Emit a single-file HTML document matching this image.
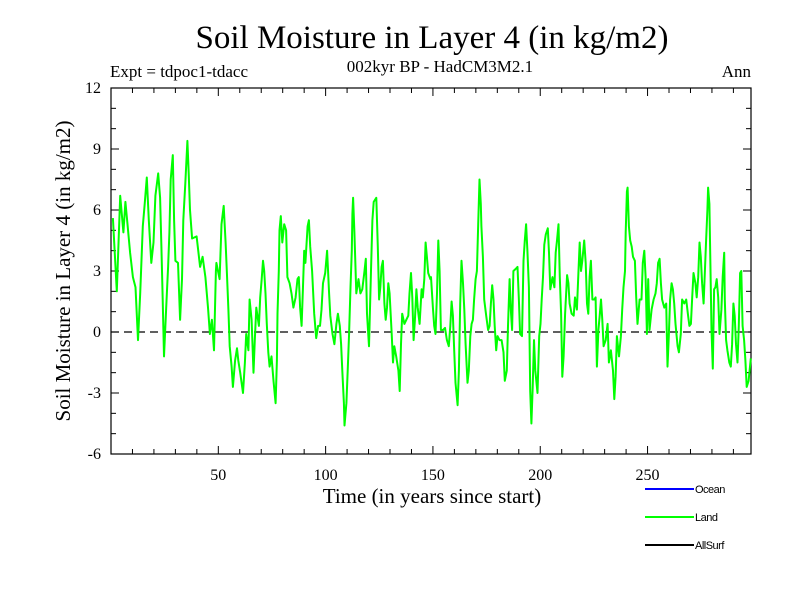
<!DOCTYPE html>
<html><head><meta charset="utf-8"><style>
html,body{margin:0;padding:0;background:#fff;}
svg{display:block;font-family:"Liberation Serif",serif;}
</style></head><body>
<svg id="chart" width="800" height="600" viewBox="0 0 800 600">
<text x="432" y="48" font-size="33" text-anchor="middle">Soil Moisture in Layer 4 (in kg/m2)</text>
<text x="110" y="77" font-size="17">Expt = tdpoc1-tdacc</text>
<text x="440" y="72" font-size="17" text-anchor="middle">002kyr BP - HadCM3M2.1</text>
<text x="751" y="77" font-size="17" text-anchor="end">Ann</text>
<g id="axes"></g>
<g id="series"></g>
<text x="432" y="503" font-size="21" text-anchor="middle">Time (in years since start)</text>
<text transform="translate(70,271) rotate(-90)" font-size="21" text-anchor="middle">Soil Moisture in Layer 4 (in kg/m2)</text>
<g font-family="Liberation Sans, sans-serif" font-size="11">
<g><line x1="645" y1="489" x2="694" y2="489" stroke="#0000ff" stroke-width="2"/><text x="695" y="493" letter-spacing="-0.5">Ocean</text></g>
<g><line x1="645" y1="517" x2="694" y2="517" stroke="#00ff00" stroke-width="2"/><text x="695" y="521" letter-spacing="-0.5">Land</text></g>
<g><line x1="645" y1="545" x2="694" y2="545" stroke="#000" stroke-width="2"/><text x="695" y="549" letter-spacing="-0.5">AllSurf</text></g>
</g>
</svg>
<script>
const years = [0.9,2.7,4.3,5.8,6.7,7.7,8.9,10.2,11.4,12.6,13.6,14.8,15.7,16.7,17.6,18.8,19.8,20.7,22,22.9,23.5,24.1,24.7,25.7,26.6,27.2,27.8,28.8,29.4,30,31.2,32.2,33.1,33.7,34.6,35.6,36.2,36.8,37.8,39.9,41.5,42.7,44,45.2,46.1,47,48,48.9,
49.1,50.6,51.5,52.5,53.4,54,54.7,55.3,56.2,56.8,57.8,58.7,59.3,60.2,61.5,62.4,63,64,64.6,65.5,66.4,67,67.7,68.9,69.5,70.2,70.8,71.4,72,72.6,73.3,73.9,74.8,75.7,76.7,77.3,77.6,78.2,78.5,79.1,79.8,80.7,81.6,82.2,83.2,84.1,85,86,86.9,87.5,88.1,88.8,89.4,90,90.6,91.6,92.2,92.8,93.7,94.7,95.6,96.5,97.4,98.1,
98.8,99.8,100.7,101.6,102.2,103.2,104.1,105,105.7,106.6,107.2,107.8,108.5,108.8,109.7,110.3,110.9,111.6,112.2,112.5,112.8,113.4,114.3,115.3,116.2,117.1,118.1,118.7,119.3,120.2,121.2,121.8,122.4,123.6,124.3,124.9,125.5,126.1,126.7,127.4,128,128.6,129.2,129.8,130.8,131.4,132,132.9,133.9,134.5,135.1,135.7,136.7,137.6,138.5,139.1,139.8,140.4,141,141.6,142.3,142.9,143.8,144.7,145.3,146,146.6,147.2,147.8,148.8,
149.1,150,150.6,151.2,151.9,152.5,153.1,153.7,154.7,155.6,156.5,157.4,158.1,158.7,159.3,159.9,160.5,161.5,162.1,162.7,163.3,164,164.6,165.2,166.1,166.7,167.4,168,168.6,169.2,169.9,170.5,171.1,171.7,172.3,172.6,173.3,173.9,174.8,175.7,176.4,177,177.6,178.2,178.8,179.5,180.1,181,182,182.9,183.5,184.4,185,185.7,186.3,186.9,187.5,188.5,189.4,190,190.6,191.5,192.2,192.8,193.4,194,194.7,195.3,195.9,196.5,197.1,197.7,198.7,
199.5,200.1,200.7,201.3,201.9,202.6,203.5,204.1,204.7,205.7,206.6,207.2,207.8,208.5,209.1,209.7,210.3,210.9,211.6,212.5,213.1,213.7,214.6,215.6,216.2,217.1,217.8,218.4,219,219.6,220.5,221.2,221.8,222.4,223,223.6,224.3,225.2,225.8,226.4,227.1,227.7,228.3,228.9,229.5,230.5,231.4,232,232.9,233.9,234.5,235.1,235.7,236.7,237.6,238.2,238.8,239.5,239.8,240.4,240.7,241.3,241.9,242.6,243.2,244.1,244.7,245.3,246.3,247.2,247.8,248.5,249.1,
249.7,250.3,250.9,251.9,252.8,253.7,254.3,254.9,255.6,256.2,256.8,257.8,258.7,259.3,259.9,260.5,261.2,261.8,262.4,263,264,264.6,265.5,266.1,267.1,268,268.9,269.5,270.2,270.8,271.4,272.3,272.9,273.6,274.2,274.8,275.4,276.1,276.7,277.3,277.9,278.2,278.8,279.1,279.8,280.4,281,281.6,282.2,282.9,283.5,284.4,285,285.7,286,286.6,287.2,288.1,288.8,289.4,290,290.6,291.2,291.9,292.5,293.1,293.7,294.3,295,295.6,296.2,297.1,298.1];
const landValues = [5.6,2.0,6.7,4.9,6.4,5.3,3.9,2.7,2.2,-0.4,1.9,5.2,6.3,7.6,5.5,3.4,4.4,6.7,7.8,6.6,4.2,1.6,-1.2,1.2,3.2,4.9,7.5,8.7,5.5,3.5,3.4,0.6,2.6,5.5,7.3,9.4,7.8,6.0,4.6,4.7,3.2,3.7,2.7,1.2,-0.1,0.6,-0.9,3.0,
3.4,2.6,5.3,6.2,4.4,2.9,1.1,-0.7,-1.7,-2.7,-1.4,-0.8,-1.4,-2.0,-3.0,-1.5,-0.1,-0.9,1.6,0.6,-2.0,-0.4,1.2,0.3,1.7,2.6,3.5,3.0,1.9,0.4,-1.0,-1.7,-1.2,-2.4,-3.5,-1.4,0.9,3.0,5.0,5.7,4.4,5.3,5.0,2.7,2.4,1.9,1.2,1.7,2.6,2.7,1.2,0.3,2.1,4.0,3.4,5.2,5.5,4.2,3.0,0.9,-0.3,0.3,0.3,1.1,
2.4,2.9,4.0,1.9,0.8,-0.1,-0.6,0.4,0.9,0.3,-0.6,-2.0,-3.5,-4.6,-3.5,-1.9,-0.2,2.2,4.0,5.8,6.6,4.9,1.9,2.6,1.9,2.1,3.0,3.6,0.9,-0.7,3.2,5.5,6.4,6.6,4.2,1.6,2.2,3.2,3.5,1.4,0.6,1.2,2.4,1.9,-0.1,-1.5,-0.7,-1.2,-1.9,-2.9,-0.6,0.9,0.4,0.6,0.8,1.9,2.9,1.7,-0.4,0.6,2.1,1.2,0.4,2.1,1.7,2.6,4.4,3.7,2.9,2.6,
2.7,1.2,0.3,-0.1,1.9,4.5,3.0,0.1,0.1,0.2,-0.4,-0.7,0.3,1.5,0.8,-0.9,-2.5,-3.6,-1.9,1.4,3.5,2.4,1.1,-0.6,-2.5,-1.9,-0.2,0.4,0.6,1.6,2.6,3.0,5.3,7.5,6.3,5.2,3.7,1.6,0.8,0.1,0.3,1.4,2.3,1.6,0.3,-0.9,-0.2,-0.4,-0.4,-1.0,-2.4,-1.9,0.3,2.6,1.1,0.1,3.0,3.1,3.2,1.7,-0.1,-0.2,3.5,4.5,5.3,4.0,2.2,-2.9,-4.5,-2.7,-0.4,-1.9,-3.0,
-0.2,0.4,1.6,2.7,4.3,4.8,5.1,3.9,2.1,2.7,2.2,3.9,4.5,5.3,2.7,0.9,-2.2,-1.2,0.9,2.8,2.4,1.4,0.9,0.8,1.7,1.1,2.9,4.4,3.0,3.5,4.5,3.4,1.4,0.9,2.7,3.5,1.6,1.6,1.7,-1.7,0.1,0.8,1.6,0.6,-0.7,-0.4,0.4,-1.5,-0.9,-1.9,-3.3,-2.2,-0.2,-1.2,-0.2,1.1,2.2,3.0,4.9,6.9,7.1,5.2,4.5,4.2,3.7,3.5,1.7,0.4,1.6,1.6,3.4,4.0,2.7,
-0.1,2.6,0.1,1.1,1.6,1.9,2.4,3.4,3.6,2.4,1.6,1.2,1.4,-1.7,-0.2,1.6,2.4,2.1,1.4,0.4,-0.7,-1.0,-0.1,1.6,1.4,1.6,0.8,0.3,0.4,1.7,2.9,2.4,1.7,2.7,4.4,3.7,2.4,1.4,3.0,4.5,6.0,7.1,6.3,4.5,0.1,-1.8,2.1,2.2,2.6,1.7,-0.1,1.1,2.7,3.9,1.6,-0.4,-0.9,-1.5,-1.7,-0.6,1.4,0.8,-0.6,-1.5,0.3,2.9,3.0,0.3,-0.4,-1.4,-2.7,-2.4,-1.3];
const xTickLabels = ["50","100","150","200","250"];
const yTickLabels = ["-6","-3","0","3","6","9","12"];

const L=111,R=751,T=88,B=454,XMIN=0,XMAX=298.2,YMIN=-6,YMAX=12;
const NS="http://www.w3.org/2000/svg";
function xs(v){return L+(v-XMIN)/(XMAX-XMIN)*(R-L);}
function ys(v){return B-(v-YMIN)/(YMAX-YMIN)*(B-T);}
function mk(tag,attrs,parent){const e=document.createElementNS(NS,tag);for(const k in attrs)e.setAttribute(k,attrs[k]);parent.appendChild(e);return e;}
const axes=document.getElementById('axes');
const ser=document.getElementById('series');
// zero line
const z=mk('line',{x1:L,x2:R,y1:ys(0),y2:ys(0),stroke:'#000','stroke-width':1.2,'stroke-dasharray':'8,5'},axes);


// ticks
for(let v=10;v<XMAX;v+=10){
  const len=(v%50===0)?8:5;
  const a=mk('line',{x1:xs(v),x2:xs(v),y1:B,y2:B-len,stroke:'#000'},axes);
  
  
  const b=mk('line',{x1:xs(v),x2:xs(v),y1:T,y2:T+len,stroke:'#000'},axes);
  
  
}
xTickLabels.forEach(s=>{
  const t=mk('text',{x:xs(+s),y:B+26,'font-size':16,'text-anchor':'middle'},axes);
  t.textContent=s;
  
  
});
for(let v=YMIN+1;v<YMAX;v+=1){
  const len=(v%3===0)?8:5;
  const a=mk('line',{x1:L,x2:L+len,y1:ys(v),y2:ys(v),stroke:'#000'},axes);
  
  
  const b=mk('line',{x1:R,x2:R-len,y1:ys(v),y2:ys(v),stroke:'#000'},axes);
  
  
}
yTickLabels.forEach(s=>{
  const t=mk('text',{x:L-10,y:ys(+s)+5,'font-size':16,'text-anchor':'end'},axes);
  t.textContent=s;
  
  
});
const fr=mk('rect',{x:L,y:T,width:R-L,height:B-T,fill:'none',stroke:'#000','stroke-width':1.2},axes);


// series
const pts=years.map((y,i)=>xs(y).toFixed(1)+','+ys(landValues[i]).toFixed(1)).join(' ');
const pl=mk('polyline',{points:pts,fill:'none',stroke:'#00ff00','stroke-width':2,'stroke-linejoin':'round'},ser);


</script>
</body></html>
